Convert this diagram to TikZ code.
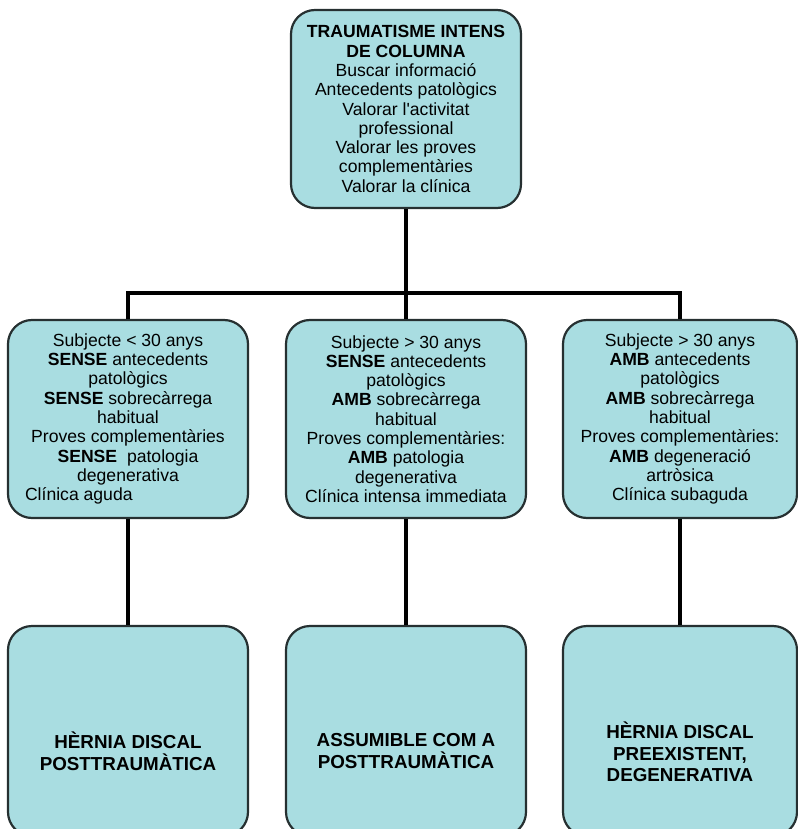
\documentclass[tikz,border=0pt]{standalone}
\usepackage{fontspec}
\setmainfont{Liberation Sans}
\definecolor{boxfill}{HTML}{A9DDE1}
\definecolor{boxline}{HTML}{263031}
\begin{document}
\begin{tikzpicture}[x=1pt,y=-1pt,
  box/.style={draw=boxline, line width=2.2pt, fill=boxfill, rounded corners=24pt,
    inner sep=0pt, align=center, text=black,
    font=\fontsize{17.6}{19.3}\selectfont},
  casebox/.style={box, minimum width=240pt, minimum height=198pt},
  endbox/.style={box, minimum width=240pt, minimum height=210pt},
  verdict/.style={inner sep=0pt, align=center, text=black,
    font=\fontsize{18.8}{21.7}\selectfont\bfseries},
  link/.style={draw=black, line width=3.4pt}]
\useasboundingbox (0,0) rectangle (797,829);

% root
\node[box, minimum width=230pt, minimum height=198pt] (root) at (406,109)
  {\textbf{TRAUMATISME INTENS}\\ \textbf{DE COLUMNA}\\ Buscar informació\\
   Antecedents patològics\\ Valorar l\textquotesingle activitat\\ professional\\
   Valorar les proves\\ complementàries\\ Valorar la clínica};

% the three cases
\node[casebox] (caseA) at (128,419)
  {Subjecte < 30 anys\\ \textbf{SENSE} antecedents\\ patològics\\
   \textbf{SENSE} sobrecàrrega\\ habitual\\ Proves complementàries\\
   \textbf{SENSE}\ \ patologia\\ degenerativa\\
   \makebox[226pt][l]{\hspace{10pt}Clínica aguda}};
\node[casebox] (caseB) at (406,419)
  {Subjecte > 30 anys\\ \textbf{SENSE} antecedents\\ patològics\\
   \textbf{AMB} sobrecàrrega\\ habitual\\ Proves complementàries:\\
   \textbf{AMB} patologia\\ degenerativa\\ Clínica intensa immediata};
\node[casebox, minimum width=234pt] (caseC) at (680,419)
  {Subjecte > 30 anys\\ \textbf{AMB} antecedents\\ patològics\\
   \textbf{AMB} sobrecàrrega\\ habitual\\ Proves complementàries:\\
   \textbf{AMB} degeneració\\ artròsica\\ Clínica subaguda};

% conclusions
\node[endbox] (endA) at (128,731) {};
\node[endbox] (endB) at (406,731) {};
\node[endbox, minimum width=234pt] (endC) at (680,731) {};
\node[verdict] (txtA) at (128,751) {HÈRNIA DISCAL\\ POSTTRAUMÀTICA};
\node[verdict] (txtB) at (406,751) {ASSUMIBLE COM A\\ POSTTRAUMÀTICA};
\node[verdict] (txtC) at (680,752) {HÈRNIA DISCAL\\ PREEXISTENT,\\ DEGENERATIVA};

% connectors
\coordinate (bar) at (0,293);
\draw[link] (root.south) -- (caseB.north);
\draw[link] (caseA.north) -- (caseA.north |- bar) -- (caseC.north |- bar) -- (caseC.north);
\draw[link] (caseA.south) -- (endA.north);
\draw[link] (caseB.south) -- (endB.north);
\draw[link] (caseC.south) -- (endC.north);
\end{tikzpicture}
\end{document}
